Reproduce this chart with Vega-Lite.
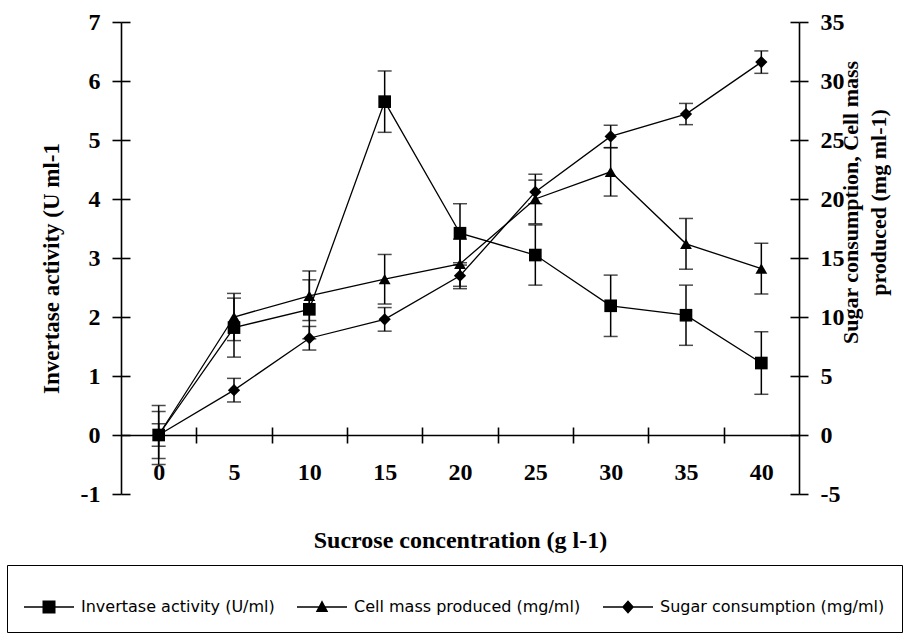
{
  "$schema": "https://vega.github.io/schema/vega-lite/v6.json",
  "autosize": {"type": "none"},
  "padding": {"left": 121, "top": 22, "right": 124, "bottom": 147},
  "width": 678,
  "height": 472,
  "background": "white",
  "config": {
    "view": {"stroke": null},
    "axis": {
      "domainColor": "black", "domainWidth": 1.6, "tickColor": "black", "tickWidth": 1.6,
      "labelFont": "Liberation Serif", "labelFontWeight": "bold", "labelFontSize": 24, "labelColor": "black",
      "titleFont": "Liberation Serif", "titleFontWeight": "bold", "titleFontSize": 24, "titleColor": "black",
      "grid": false
    }
  },
  "data": {"values": [
    {"conc": 0, "series": "Invertase activity (U/ml)", "value": 0, "err": 0.5},
    {"conc": 5, "series": "Invertase activity (U/ml)", "value": 1.82, "err": 0.5},
    {"conc": 10, "series": "Invertase activity (U/ml)", "value": 2.13, "err": 0.5},
    {"conc": 15, "series": "Invertase activity (U/ml)", "value": 5.65, "err": 0.52},
    {"conc": 20, "series": "Invertase activity (U/ml)", "value": 3.42, "err": 0.5},
    {"conc": 25, "series": "Invertase activity (U/ml)", "value": 3.05, "err": 0.51},
    {"conc": 30, "series": "Invertase activity (U/ml)", "value": 2.19, "err": 0.52},
    {"conc": 35, "series": "Invertase activity (U/ml)", "value": 2.03, "err": 0.51},
    {"conc": 40, "series": "Invertase activity (U/ml)", "value": 1.22, "err": 0.53},
    {"conc": 0, "series": "Cell mass produced (mg/ml)", "value": 0, "err": 2.0},
    {"conc": 5, "series": "Cell mass produced (mg/ml)", "value": 10.0, "err": 2.0},
    {"conc": 10, "series": "Cell mass produced (mg/ml)", "value": 11.8, "err": 2.1},
    {"conc": 15, "series": "Cell mass produced (mg/ml)", "value": 13.2, "err": 2.1},
    {"conc": 20, "series": "Cell mass produced (mg/ml)", "value": 14.5, "err": 2.1},
    {"conc": 25, "series": "Cell mass produced (mg/ml)", "value": 20.0, "err": 2.1},
    {"conc": 30, "series": "Cell mass produced (mg/ml)", "value": 22.3, "err": 2.05},
    {"conc": 35, "series": "Cell mass produced (mg/ml)", "value": 16.2, "err": 2.15},
    {"conc": 40, "series": "Cell mass produced (mg/ml)", "value": 14.1, "err": 2.15},
    {"conc": 0, "series": "Sugar consumption (mg/ml)", "value": 0, "err": 0.95},
    {"conc": 5, "series": "Sugar consumption (mg/ml)", "value": 3.8, "err": 1.0},
    {"conc": 10, "series": "Sugar consumption (mg/ml)", "value": 8.2, "err": 1.0},
    {"conc": 15, "series": "Sugar consumption (mg/ml)", "value": 9.8, "err": 1.0},
    {"conc": 20, "series": "Sugar consumption (mg/ml)", "value": 13.5, "err": 0.9},
    {"conc": 25, "series": "Sugar consumption (mg/ml)", "value": 20.6, "err": 1.0},
    {"conc": 30, "series": "Sugar consumption (mg/ml)", "value": 25.3, "err": 0.95},
    {"conc": 35, "series": "Sugar consumption (mg/ml)", "value": 27.2, "err": 0.9},
    {"conc": 40, "series": "Sugar consumption (mg/ml)", "value": 31.6, "err": 0.95}
  ]},
  "layer": [
    {
      "transform": [{"filter": "datum.series === 'Invertase activity (U/ml)'"}],
      "mark": {"type": "line", "color": "black", "strokeWidth": 1.3},
      "encoding": {
        "x": {"field": "conc", "type": "quantitative",
          "scale": {"domain": [-2.5, 42.5], "nice": false, "zero": false},
          "axis": {"orient": "bottom", "values": [0, 5, 10, 15, 20, 25, 30, 35, 40], "domain": false, "ticks": false, "offset": -59,
            "labelPadding": 25, "title": "Sucrose concentration (g l-1)", "titleBaseline": "alphabetic", "titleY": 112}},
        "y": {"field": "value", "type": "quantitative",
          "scale": {"domain": [-1, 7], "nice": false, "zero": false},
          "axis": {"orient": "left", "values": [-1, 0, 1, 2, 3, 4, 5, 6, 7], "labelExpr": "'' + datum.value", "tickSize": 9, "labelPadding": 12,
            "title": "Invertase activity (U ml-1", "titleFontSize": 23, "titleAngle": 270, "titleX": -70, "titleY": 246, "titleBaseline": "middle"}}
      }
    },
    {
      "transform": [{"filter": "datum.series === 'Invertase activity (U/ml)'"}],
      "mark": {"type": "errorbar", "color": "black", "thickness": 1.5, "ticks": {"size": 14, "thickness": 1.5, "color": "black"}},
      "encoding": {
        "x": {"field": "conc", "type": "quantitative",
          "scale": {"domain": [-2.5, 42.5], "nice": false, "zero": false},
          "axis": {"orient": "bottom", "values": [2.5, 7.5, 12.5, 17.5, 22.5, 27.5, 32.5, 37.5], "labels": false, "tickSize": 8, "offset": -59, "title": null}},
        "y": {"field": "value", "type": "quantitative",
          "scale": {"domain": [-1, 7], "nice": false, "zero": false},
          "axis": {"orient": "left", "values": [-1, 0, 1, 2, 3, 4, 5, 6, 7], "tickSize": -9, "labels": false, "domain": false, "title": null}},
        "yError": {"field": "err"}
      }
    },
    {
      "transform": [{"filter": "datum.series === 'Invertase activity (U/ml)'"}],
      "mark": {"type": "point", "shape": "square", "filled": true, "color": "black", "size": 160, "opacity": 1},
      "encoding": {
        "x": {"field": "conc", "type": "quantitative",
          "scale": {"domain": [-2.5, 42.5], "nice": false, "zero": false},
          "axis": {"orient": "bottom", "values": [2.5, 7.5, 12.5, 17.5, 22.5, 27.5, 32.5, 37.5], "labels": false, "domain": false, "tickSize": -8, "offset": -59, "title": null}},
        "y": {"field": "value", "type": "quantitative",
          "scale": {"domain": [-1, 7], "nice": false, "zero": false}, "axis": null}
      }
    },
    {
      "transform": [{"filter": "datum.series !== 'Invertase activity (U/ml)'"}],
      "mark": {"type": "line", "color": "black", "strokeWidth": 1.3},
      "encoding": {
        "x": {"field": "conc", "type": "quantitative",
          "scale": {"domain": [-2.5, 42.5], "nice": false, "zero": false}, "axis": null},
        "y": {"field": "value", "type": "quantitative",
          "scale": {"domain": [-5, 35], "nice": false, "zero": false},
          "axis": {"orient": "right", "values": [-5, 0, 5, 10, 15, 20, 25, 30, 35], "labelExpr": "'' + datum.value", "tickSize": 9, "labelPadding": 12,
            "title": ["Sugar consumption, Cell mass", "produced (mg ml-1)"], "titleFontSize": 22, "titleAngle": 270, "titleX": 51, "titleY": 180,
            "titleBaseline": "middle", "titleLineHeight": 28}},
        "detail": {"field": "series"}
      }
    },
    {
      "transform": [{"filter": "datum.series !== 'Invertase activity (U/ml)'"}],
      "mark": {"type": "errorbar", "color": "black", "thickness": 1.5, "ticks": {"size": 14, "thickness": 1.5, "color": "black"}},
      "encoding": {
        "x": {"field": "conc", "type": "quantitative",
          "scale": {"domain": [-2.5, 42.5], "nice": false, "zero": false}, "axis": null},
        "y": {"field": "value", "type": "quantitative",
          "scale": {"domain": [-5, 35], "nice": false, "zero": false},
          "axis": {"orient": "right", "values": [-5, 0, 5, 10, 15, 20, 25, 30, 35], "tickSize": -9, "labels": false, "domain": false, "title": null}},
        "yError": {"field": "err"},
        "detail": {"field": "series"}
      }
    },
    {
      "transform": [{"filter": "datum.series === 'Cell mass produced (mg/ml)'"}],
      "mark": {"type": "point", "shape": "triangle-up", "filled": true, "color": "black", "size": 140, "opacity": 1},
      "encoding": {
        "x": {"field": "conc", "type": "quantitative",
          "scale": {"domain": [-2.5, 42.5], "nice": false, "zero": false}, "axis": null},
        "y": {"field": "value", "type": "quantitative",
          "scale": {"domain": [-5, 35], "nice": false, "zero": false}, "axis": null}
      }
    },
    {
      "transform": [{"filter": "datum.series === 'Sugar consumption (mg/ml)'"}],
      "mark": {"type": "point", "shape": "diamond", "filled": true, "color": "black", "size": 150, "opacity": 1},
      "encoding": {
        "x": {"field": "conc", "type": "quantitative",
          "scale": {"domain": [-2.5, 42.5], "nice": false, "zero": false}, "axis": null},
        "y": {"field": "value", "type": "quantitative",
          "scale": {"domain": [-5, 35], "nice": false, "zero": false}, "axis": null}
      }
    },
    {
      "mark": {"type": "point", "filled": true, "color": "black", "opacity": 0},
      "encoding": {
        "x": {"field": "conc", "type": "quantitative",
          "scale": {"domain": [-2.5, 42.5], "nice": false, "zero": false}, "axis": null},
        "y": {"field": "value", "type": "quantitative",
          "scale": {"domain": [-5, 35], "nice": false, "zero": false}, "axis": null},
        "shape": {"field": "series", "type": "nominal",
          "scale": {"domain": ["Invertase activity (U/ml)", "Cell mass produced (mg/ml)", "Sugar consumption (mg/ml)"],
            "range": ["M-1,-0.03H1V0.03H-1ZM-0.26,-0.26H0.26V0.26H-0.26Z", "M-1,-0.03H1V0.03H-1ZM0,-0.27L0.25,0.2H-0.25Z", "M-1,-0.03H1V0.03H-1ZM0,-0.27L0.24,0L0,0.27L-0.24,0Z"]},
          "legend": {"title": null, "orient": "none", "legendX": -114, "legendY": 543, "direction": "horizontal",
            "strokeColor": "black", "padding": 17, "symbolSize": 2500, "symbolOpacity": 1,
            "symbolFillColor": "black", "symbolStrokeWidth": 0,
            "labelFont": "DejaVu Sans", "labelFontSize": 16, "labelColor": "black", "labelOffset": 7,
            "labelLimit": 400, "columnPadding": 22}}
      }
    }
  ],
  "resolve": {"scale": {"y": "independent", "shape": "independent"}, "axis": {"x": "independent", "y": "independent"}}
}
